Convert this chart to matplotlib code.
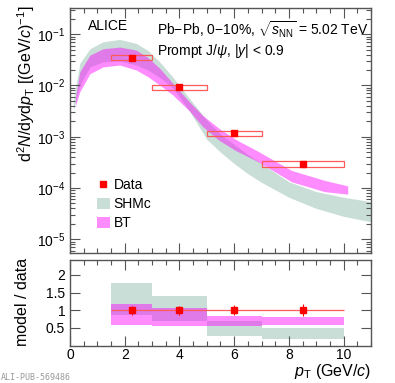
import matplotlib
matplotlib.use("Agg")
import matplotlib.pyplot as plt
import numpy as np
from matplotlib.patches import Rectangle, Patch
from matplotlib.lines import Line2D
from matplotlib.ticker import MultipleLocator, FormatStrFormatter

plt.rcParams['font.family'] = ['Liberation Sans', 'DejaVu Sans']
plt.rcParams['mathtext.fontset'] = 'custom'
plt.rcParams['mathtext.rm'] = 'Liberation Sans'
plt.rcParams['mathtext.it'] = 'Liberation Sans:italic'

# data points (prompt J/psi, Pb-Pb 0-10%)
bin_lo = [1.5, 3.0, 5.0, 7.0]
bin_hi = [3.0, 5.0, 7.0, 10.0]
pt = [2.25, 4.0, 6.0, 8.5]
yld = [0.035, 0.0092, 0.00117, 0.00029]
syst_lo = [0.031, 0.0083, 0.00105, 0.000255]
syst_hi = [0.039, 0.0100, 0.00129, 0.00033]

# SHMc band
shm_pt = [0.12, 0.36, 0.73, 1.21, 1.82, 2.42, 2.85, 3.3, 3.76, 4.36, 5.0, 5.5,
          6.0, 6.5, 7.0, 8.0, 9.0, 10.0, 11.0]
shm_hi = [5.0e-3, 2.7e-2, 5.2e-2, 7.1e-2, 7.9e-2, 6.6e-2, 4.8e-2, 2.8e-2, 1.45e-2,
          5.6e-3, 2.1e-3, 1.12e-3, 7.1e-4, 4.5e-4, 3.0e-4, 1.32e-4, 8.5e-5, 6.6e-5, 5.4e-5]
shm_lo = [3.2e-3, 1.02e-2, 2.3e-2, 2.9e-2, 3.0e-2, 2.5e-2, 2.0e-2, 1.41e-2, 8.9e-3,
          3.2e-3, 8.9e-4, 5.0e-4, 3.0e-4, 1.9e-4, 1.29e-4, 6.6e-5, 4.0e-5, 2.8e-5, 2.2e-5]

# BT band
bt_pt = [0.2, 0.36, 0.73, 1.21, 1.82, 2.42, 2.85, 3.3, 3.76, 4.36, 4.85, 5.45,
         6.05, 6.9, 8.1, 9.3, 10.15]
bt_hi = [5.9e-3, 1.86e-2, 3.9e-2, 5.2e-2, 5.6e-2, 4.9e-2, 3.5e-2, 2.1e-2, 1.1e-2,
         4.8e-3, 2.6e-3, 1.45e-3, 8.9e-4, 5.1e-4, 2.2e-4, 1.41e-4, 1.1e-4]
bt_lo = [4.0e-3, 7.6e-3, 1.7e-2, 2.3e-2, 2.5e-2, 2.0e-2, 1.48e-2, 1.0e-2, 6.5e-3,
         3.2e-3, 1.58e-3, 8.5e-4, 5.4e-4, 3.2e-4, 1.32e-4, 8.5e-5, 7.6e-5]

# model / data
ratio_err = [0.12, 0.12, 0.14, 0.17]
shm_r_lo = [0.87, 0.71, 0.28, 0.19]
shm_r_hi = [1.76, 1.40, 0.70, 0.51]
bt_r_lo = [0.59, 0.56, 0.56, 0.59]
bt_r_hi = [1.18, 1.06, 0.85, 0.82]

grey = '#c8ded6'
pink = '#ff00ff'
pink_a = 0.45
red = '#ff0000'
box_red = '#ff5a5a'
frame = '#555555'

fig = plt.figure(figsize=(3.95, 3.83), dpi=100)
ax = fig.add_axes([0.1772, 0.3394, 0.762, 0.639])
axr = fig.add_axes([0.1772, 0.0974, 0.762, 0.2238])

# top panel
ax.fill_between(shm_pt, shm_lo, shm_hi, color=grey, lw=0)
ax.fill_between(bt_pt, bt_lo, bt_hi, color=pink, alpha=pink_a, lw=0)
for lo, hi, s1, s2 in zip(bin_lo, bin_hi, syst_lo, syst_hi):
    ax.add_patch(Rectangle((lo, s1), hi - lo, s2 - s1, fill=False,
                           ec=box_red, lw=0.9, zorder=4))
ax.plot(pt, yld, 's', color=red, ms=5, zorder=5)
ax.set_yscale('log')
ax.set_xlim(0, 11)
ax.set_ylim(5.4e-6, 0.32)
ax.tick_params(labelbottom=False)

ax.text(0.06, 0.955, 'ALICE', transform=ax.transAxes, fontsize=10, va='top')
ax.text(0.29, 0.955, r'Pb$-$Pb, 0$-$10%, $\sqrt{s_{\mathrm{NN}}}$ = 5.02 TeV',
        transform=ax.transAxes, fontsize=10, va='top')
ax.text(0.29, 0.862, r'Prompt J/$\psi$, |$y$| < 0.9', transform=ax.transAxes,
        fontsize=10, va='top')

handles = [Line2D([], [], marker='s', color=red, ls='none', ms=5),
           Patch(color=grey, lw=0),
           Patch(color=pink, alpha=pink_a, lw=0)]
ax.legend(handles, ['Data', 'SHMc', 'BT'], loc='upper left',
          bbox_to_anchor=(0.09, 0.305), frameon=False, fontsize=10,
          handlelength=0.9, handleheight=0.9, handletextpad=0.3,
          labelspacing=0.35, borderpad=0, borderaxespad=0)

# ratio panel
for i in range(len(pt)):
    w = bin_hi[i] - bin_lo[i]
    axr.add_patch(Rectangle((bin_lo[i], shm_r_lo[i]), w, shm_r_hi[i] - shm_r_lo[i],
                            color=grey, lw=0))
    axr.add_patch(Rectangle((bin_lo[i], bt_r_lo[i]), w, bt_r_hi[i] - bt_r_lo[i],
                            color=pink, alpha=pink_a, lw=0))
axr.hlines(1, bin_lo[0], bin_hi[-1], color=box_red, lw=0.9, zorder=3)
axr.errorbar(pt, np.ones(len(pt)), yerr=ratio_err, fmt='s', color=red, ms=5,
             elinewidth=0.8, capsize=0, zorder=5)
axr.set_xlim(0, 11)
axr.set_ylim(0, 2.42)
axr.yaxis.set_major_formatter(FormatStrFormatter('%g'))
axr.set_yticks([0.5, 1, 1.5, 2])

for a in (ax, axr):
    a.xaxis.set_major_locator(MultipleLocator(2))
    a.xaxis.set_minor_locator(MultipleLocator(0.5))
    a.tick_params(which='both', direction='in', top=True, right=True,
                  labelsize=10, color=frame)
    a.tick_params(which='major', length=7, width=0.8)
    a.tick_params(which='minor', length=3.5, width=0.8)
    for s in a.spines.values():
        s.set_color(frame)
        s.set_linewidth(1)
axr.tick_params(axis='x', pad=2)
axr.tick_params(axis='y', which='minor', left=False, right=False)

fig.text(0.065, 1 - 6 / 383, r'd$^{2}N$/d$y$d$p_{\mathrm{T}}$ [(GeV/$c$)$^{-1}$]',
         rotation=90, va='top', ha='center', fontsize=11.5)
fig.text(0.057, 1 - 302 / 383, 'model / data', rotation=90, va='center',
         ha='center', fontsize=11.5)
fig.text(0.939, 1 - 376 / 383, r'$p_{\mathrm{T}}$ (GeV/$c$)', ha='right',
         va='baseline', fontsize=11.5)
fig.text(0.003, 1 - 380 / 383, 'ALI-PUB-569486', family='DejaVu Sans Mono',
         fontsize=6, color='#999999', va='baseline')

fig.savefig('out.png', dpi=100)
